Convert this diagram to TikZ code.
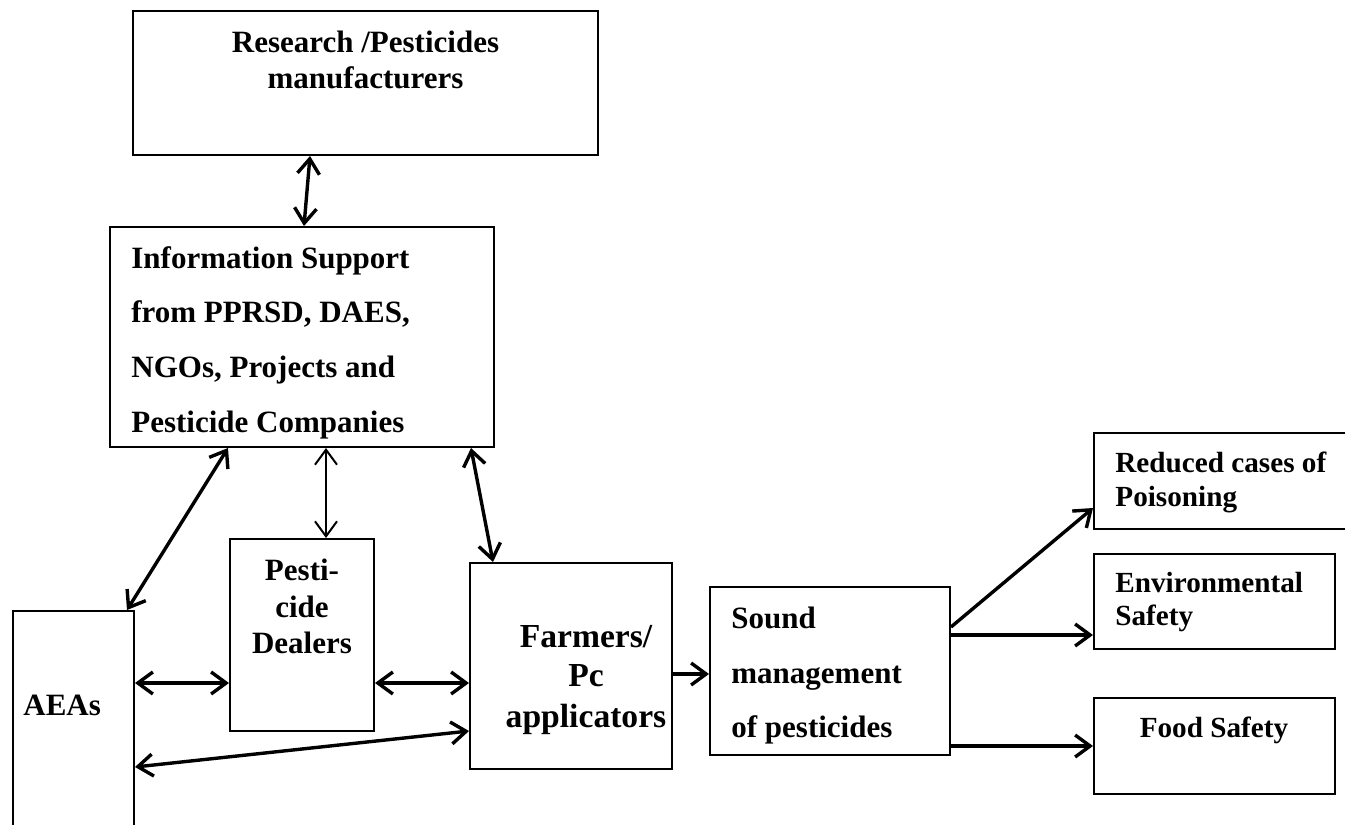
\documentclass[tikz,border=0pt]{standalone}
\usepackage{fontspec}
\setmainfont{Liberation Serif}
\usetikzlibrary{arrows.meta,fit}
\begin{document}
\begin{tikzpicture}[x=0.5pt,y=-0.5pt,
  box/.style={draw, line width=1pt, inner sep=0pt},
  txt/.style={inner sep=0pt, font=\bfseries\fontsize{15.5}{18}\selectfont},
  txtbig/.style={inner sep=0pt, font=\bfseries\fontsize{16.8}{20}\selectfont},
  txtsm/.style={inner sep=0pt, font=\bfseries\fontsize{14.6}{17}\selectfont},
  tip/.style={Straight Barb[length=7.5pt,width=11pt]},
  conn/.style={line width=1.7pt, {Straight Barb[length=7.5pt,width=11pt]}-{Straight Barb[length=7.5pt,width=11pt]}},
  connthin/.style={line width=1pt, {Straight Barb[length=7.5pt,width=11pt]}-{Straight Barb[length=7.5pt,width=11pt]}},
  flow/.style={line width=1.7pt, -{Straight Barb[length=7.5pt,width=11pt]}}]
\clip (0,0) rectangle (1345,825);
\fill[white] (0,0) rectangle (1345,825);
% boxes
\node[box, fit={(133,11) (598,155)}] (res) {};
\node[box, fit={(110,227) (494,447)}] (info) {};
\node[box, fit={(13,611) (134,900)}] (aeas) {};
\node[box, fit={(230,539) (374,731)}] (dealers) {};
\node[box, fit={(470,563) (672,769)}] (farmers) {};
\node[box, fit={(710,587) (950,755)}] (sound) {};
\node[box, fit={(1094,433) (1400,529)}] (reduced) {};
\node[box, fit={(1094,554) (1335,649)}] (env) {};
\node[box, fit={(1094,698) (1335,794)}] (food) {};
% texts
\node[txt, anchor=base] (t1) at (365.5,52) {Research /Pesticides};
\node[txt, anchor=base] (t2) at (365.5,88) {manufacturers};
\node[txt, anchor=base west] (t3) at (131,268) {Information Support};
\node[txt, anchor=base west] (t4) at (131,322) {from PPRSD, DAES,};
\node[txt, anchor=base west] (t5) at (131,377) {NGOs, Projects and};
\node[txt, anchor=base west] (t6) at (131,432) {Pesticide Companies};
\node[txt, anchor=base] (t7) at (302,580) {Pesti-};
\node[txt, anchor=base] (t8) at (302,617) {cide};
\node[txt, anchor=base] (t9) at (302,653) {Dealers};
\node[txt, anchor=base west] (t10) at (23,715) {AEAs};
\node[txtbig, anchor=base] (t11) at (586,647) {Farmers/};
\node[txtbig, anchor=base] (t12) at (586,686) {Pc};
\node[txtbig, anchor=base] (t13) at (586,727) {applicators};
\node[txt, anchor=base west] (t14) at (731,628) {Sound};
\node[txt, anchor=base west] (t15) at (731,683) {management};
\node[txt, anchor=base west] (t16) at (731,737) {of pesticides};
\node[txtsm, anchor=base west] (t17) at (1115,472) {Reduced cases of};
\node[txtsm, anchor=base west] (t18) at (1115,506) {Poisoning};
\node[txtsm, anchor=base west] (t19) at (1115,592) {Environmental};
\node[txtsm, anchor=base west] (t20) at (1115,625) {Safety};
\node[txtsm, anchor=base] (t21) at (1214,737) {Food Safety};
% connectors
\draw[conn] (res.south -| 310,0) -- (info.north -| 304,0);
\draw[conn] (info.south -| 228,0) -- (aeas.north -| 127,0);
\draw[connthin] (info.south -| 326,0) -- (dealers.north -| 326,0);
\draw[conn] (info.south -| 471,0) -- (farmers.north -| 493,0);
\draw[conn] (aeas.east |- 0,683) -- (dealers.west |- 0,683);
\draw[conn] (dealers.east |- 0,683) -- (farmers.west |- 0,683);
\draw[conn] (aeas.east |- 0,767) -- (farmers.west |- 0,731);
\draw[flow] (farmers.east |- 0,674) -- (sound.west |- 0,674);
\draw[flow] (sound.east |- 0,627) -- (reduced.west |- 0,508);
\draw[flow] (sound.east |- 0,635) -- (env.west |- 0,635);
\draw[flow] (sound.east |- 0,746) -- (food.west |- 0,746);
\end{tikzpicture}
\end{document}
